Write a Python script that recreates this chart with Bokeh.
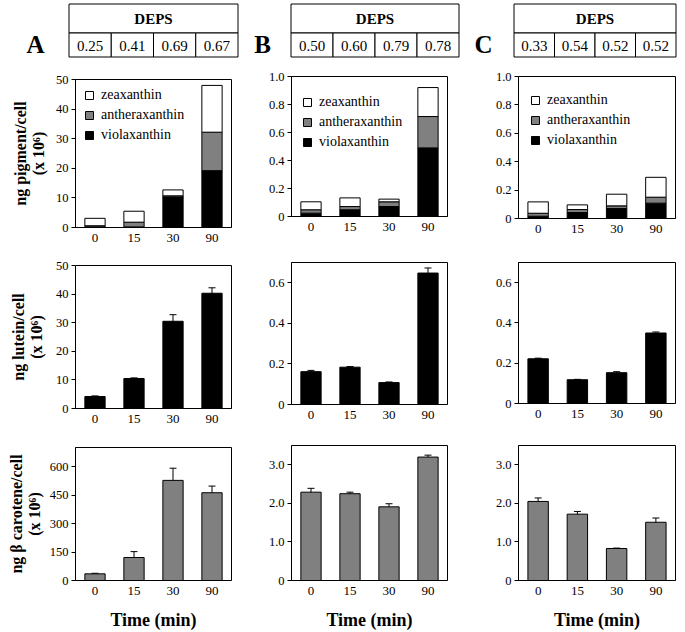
from bokeh.plotting import figure
from bokeh.models import (Range1d, FactorRange, FixedTicker, ColumnDataSource,
                          Whisker, TeeHead, Legend, LegendItem, LinearAxis)
from bokeh.layouts import row, column
from bokeh.embed import file_html
from bokeh.resources import INLINE
from bokeh.core.properties import value

FONT = "Liberation Serif"
GRAY = "#808080"

# ---------------- data ----------------
times = ["0", "15", "30", "90"]
panel_letters = ["A", "B", "C"]

deps_A = [0.25, 0.41, 0.69, 0.67]
deps_B = [0.50, 0.60, 0.79, 0.78]
deps_C = [0.33, 0.54, 0.52, 0.52]

# stacked xanthophyll pigments (ng pigment/cell x 10^6)
viola_A = [0.2, 0.2, 10.3, 19.2]
anthera_A = [0.4, 1.6, 0.4, 13.0]
zea_A = [2.5, 3.7, 2.0, 15.8]

viola_B = [0.024, 0.048, 0.071, 0.490]
anthera_B = [0.024, 0.023, 0.034, 0.224]
zea_B = [0.057, 0.062, 0.019, 0.207]

viola_C = [0.016, 0.042, 0.070, 0.108]
anthera_C = [0.021, 0.021, 0.019, 0.042]
zea_C = [0.080, 0.033, 0.082, 0.140]

# lutein
lutein_A = [4.2, 10.5, 30.5, 40.3]
lutein_A_err = [0.2, 0.2, 2.3, 1.9]
lutein_B = [0.162, 0.184, 0.108, 0.648]
lutein_B_err = [0.006, 0.003, 0.003, 0.025]
lutein_C = [0.222, 0.118, 0.153, 0.350]
lutein_C_err = [0.003, 0.002, 0.005, 0.005]

# beta carotene
carot_A = [35, 121, 527, 462]
carot_A_err = [3, 31, 64, 35]
carot_B = [2.29, 2.25, 1.91, 3.20]
carot_B_err = [0.10, 0.04, 0.08, 0.05]
carot_C = [2.05, 1.72, 0.83, 1.51]
carot_C_err = [0.09, 0.07, 0.01, 0.11]

# axis ticks
yt_pig_A = [0, 10, 20, 30, 40, 50]
yl_pig_A = ["0", "10", "20", "30", "40", "50"]
yt_pig_BC = [0, 0.2, 0.4, 0.6, 0.8, 1.0]
yl_pig_BC = ["0", "0.2", "0.4", "0.6", "0.8", "1.0"]
yt_lut_A = [0, 10, 20, 30, 40, 50]
yl_lut_A = ["0", "10", "20", "30", "40", "50"]
yt_lut_BC = [0, 0.2, 0.4, 0.6]
yl_lut_BC = ["0", "0.2", "0.4", "0.6"]
yt_car_A = [0, 150, 300, 450, 600]
yl_car_A = ["0", "150", "300", "450", "600"]
yt_car_BC = [0, 1, 2, 3]
yl_car_BC = ["0", "1.0", "2.0", "3.0"]

ylabel_pig = ["ng pigment/cell", "(x 10\u2076)"]
ylabel_lut = ["ng lutein/cell", "(x 10\u2076)"]
ylabel_car = ["ng \u03b2 carotene/cell", "(x 10\u2076)"]
xlabel = "Time (min)"

# ---------------- layout constants (page pixels) ----------------
PAGE_W = 685
TABLE_FIG_H = 60
COL_W = [250, 216, 219]
COL_BORDER_LR = [(75, 19), (41, 19), (52, 10)]
# per column: (height, border_top, border_bottom) for top / middle / bottom panel
GEOM = [
    [(186, 19, 19), (182, 19, 20), (204, 19, 50)],
    [(184, 16, 28), (180, 18, 20), (208, 21, 49)],
    [(184, 16, 26), (180, 18, 21), (208, 21, 49)],
]
TABLE_LR = [(68.5, 237.5), (290.5, 458.5), (513.5, 675.5)]
TABLE_Y = (3.5, 32.5, 56.5)
LETTER_XY = [(35, 44), (262, 44), (483, 44)]
LEGEND_POS = [(11, 14), (13, 24), (14, 22)]  # glyph left offset, first row centre offset


def tables_fig():
    p = figure(width=PAGE_W, height=TABLE_FIG_H,
               x_range=Range1d(0, PAGE_W), y_range=Range1d(TABLE_FIG_H, 0),
               x_axis_type=None, y_axis_type=None,
               min_border=0, min_border_left=0, min_border_right=0,
               min_border_top=0, min_border_bottom=0,
               output_backend="svg", toolbar_location=None)
    p.outline_line_color = None
    p.grid.visible = False
    yt, ym, yb = TABLE_Y
    for (tl, tr), deps in zip(TABLE_LR, [deps_A, deps_B, deps_C]):
        cw = (tr - tl) / 4.0
        p.quad(left=[tl], right=[tr], top=[yt], bottom=[ym], fill_color="white",
               line_color="black", line_width=1)
        p.quad(left=[tl + i * cw for i in range(4)], right=[tl + (i + 1) * cw for i in range(4)],
               top=[ym] * 4, bottom=[yb] * 4, fill_color="white", line_color="black", line_width=1)
        p.text(x=[(tl + tr) / 2], y=[(yt + ym) / 2], text=["DEPS"], text_font=value(FONT),
               text_font_style="bold", text_font_size="15px", text_align="center",
               text_baseline="middle", text_color="black")
        p.text(x=[tl + (i + 0.5) * cw for i in range(4)], y=[(ym + yb) / 2 + 0.5] * 4,
               text=["%.2f" % d for d in deps], text_font=value(FONT), text_font_size="15px",
               text_align="center", text_baseline="middle", text_color="black")
    p.text(x=[xy[0] for xy in LETTER_XY], y=[xy[1] for xy in LETTER_XY], text=panel_letters,
           text_font=value(FONT), text_font_style="bold", text_font_size="25px",
           text_align="center", text_baseline="middle", text_color="black")
    return p


def base_fig(ci, ri, ymax, yticks, ylabels, ylabel=None, ylabel_standoff=6, xlab=None):
    h, bt, bb = GEOM[ci][ri]
    bl, br = COL_BORDER_LR[ci]
    p = figure(width=COL_W[ci], height=h, x_range=FactorRange(factors=times),
               y_range=Range1d(0, ymax),
               min_border_left=bl, min_border_right=br, min_border_top=bt, min_border_bottom=bb,
               output_backend="svg", toolbar_location=None)
    p.grid.visible = False
    p.outline_line_color = "black"
    p.outline_line_width = 1
    xa, ya = p.xaxis[0], p.yaxis[0]
    for ax in (xa, ya):
        ax.axis_line_color = "black"
        ax.minor_tick_line_color = None
        ax.major_label_text_font = FONT
        ax.major_label_text_color = "black"
    xa.major_tick_line_color = None
    xa.major_tick_out = 0
    xa.major_tick_in = 0
    xa.major_label_text_font_size = "13px"
    xa.major_label_standoff = 6
    ya.ticker = FixedTicker(ticks=yticks)
    ya.major_label_overrides = dict(zip(yticks, ylabels))
    ya.major_tick_out = 4
    ya.major_tick_in = 0
    ya.major_tick_line_color = "black"
    ya.major_label_text_font_size = "12.5px"
    ya.major_label_standoff = 3
    if ylabel:
        line1, line2 = ylabel
        ya.axis_label = line2
        ya.axis_label_text_font = FONT
        ya.axis_label_text_font_style = "bold"
        ya.axis_label_text_font_size = "16px"
        ya.axis_label_text_color = "black"
        ya.axis_label_standoff = ylabel_standoff
        outer = LinearAxis(ticker=FixedTicker(ticks=[]), axis_line_color=None,
                           major_tick_line_color=None, minor_tick_line_color=None,
                           major_tick_out=0, major_tick_in=0, minor_tick_out=0,
                           major_label_standoff=0,
                           axis_label=line1, axis_label_text_font=FONT,
                           axis_label_text_font_style="bold", axis_label_text_font_size="16px",
                           axis_label_text_color="black", axis_label_standoff=-2)
        p.add_layout(outer, "left")
    if xlab:
        xa.axis_label = xlab
        xa.axis_label_text_font = FONT
        xa.axis_label_text_font_style = "bold"
        xa.axis_label_text_font_size = "18px"
        xa.axis_label_text_color = "black"
        xa.axis_label_standoff = 12
    return p


def stacked(ci, viola, anthera, zea, ymax, yticks, ylabels, ylabel=None):
    h, bt, bb = GEOM[ci][0]
    p = base_fig(ci, 0, ymax, yticks, ylabels, ylabel)
    src = ColumnDataSource(dict(t=times, v=viola, a=anthera, z=zea))
    rs = p.vbar_stack(["v", "a", "z"], x="t", width=0.52, source=src,
                      fill_color=["black", GRAY, "white"], line_color="black", line_width=1)
    pad, spacing, row_h = 2, 4, 16
    gl, fc = LEGEND_POS[ci]
    frame_h = h - bt - bb
    leg_h = 2 * pad + 3 * row_h + 2 * spacing
    top_off = fc - row_h / 2 - pad
    leg = Legend(items=[LegendItem(label="zeaxanthin", renderers=[rs[2]]),
                        LegendItem(label="antheraxanthin", renderers=[rs[1]]),
                        LegendItem(label="violaxanthin", renderers=[rs[0]])],
                 location=(gl - pad, frame_h - top_off - leg_h),
                 border_line_color=None, background_fill_alpha=0,
                 glyph_width=10, glyph_height=10, label_standoff=7,
                 label_text_font=FONT, label_text_font_size="14px",
                 label_text_color="black", spacing=spacing, padding=pad, margin=0,
                 label_height=row_h)
    p.add_layout(leg)
    return p


def bars(ci, ri, vals, errs, color, ymax, yticks, ylabels, ylabel=None,
         standoff=6, xlab=None):
    p = base_fig(ci, ri, ymax, yticks, ylabels, ylabel, standoff, xlab)
    src = ColumnDataSource(dict(t=times, v=vals,
                                up=[v + e for v, e in zip(vals, errs)],
                                lo=[v - e for v, e in zip(vals, errs)]))
    p.vbar(x="t", top="v", width=0.52, source=src, fill_color=color,
           line_color="black", line_width=1)
    w = Whisker(base="t", upper="up", lower="lo", source=src, line_color="black",
                line_width=1,
                upper_head=TeeHead(size=7, line_color="black", line_width=1),
                lower_head=TeeHead(size=7, line_color="black", line_width=1))
    p.add_layout(w)
    return p


colA = column(
    stacked(0, viola_A, anthera_A, zea_A, 50, yt_pig_A, yl_pig_A, ylabel_pig),
    bars(0, 1, lutein_A, lutein_A_err, "black", 50, yt_lut_A, yl_lut_A, ylabel_lut, 8),
    bars(0, 2, carot_A, carot_A_err, GRAY, 700, yt_car_A, yl_car_A, ylabel_car, 4, xlabel),
)
colB = column(
    stacked(1, viola_B, anthera_B, zea_B, 1.0, yt_pig_BC, yl_pig_BC),
    bars(1, 1, lutein_B, lutein_B_err, "black", 0.7, yt_lut_BC, yl_lut_BC),
    bars(1, 2, carot_B, carot_B_err, GRAY, 3.5, yt_car_BC, yl_car_BC, xlab=xlabel),
)
colC = column(
    stacked(2, viola_C, anthera_C, zea_C, 1.0, yt_pig_BC, yl_pig_BC),
    bars(2, 1, lutein_C, lutein_C_err, "black", 0.7, yt_lut_BC, yl_lut_BC),
    bars(2, 2, carot_C, carot_C_err, GRAY, 3.5, yt_car_BC, yl_car_BC, xlab=xlabel),
)

layout = column(tables_fig(), row(colA, colB, colC))
open("out.html", "w").write(file_html(layout, INLINE))
